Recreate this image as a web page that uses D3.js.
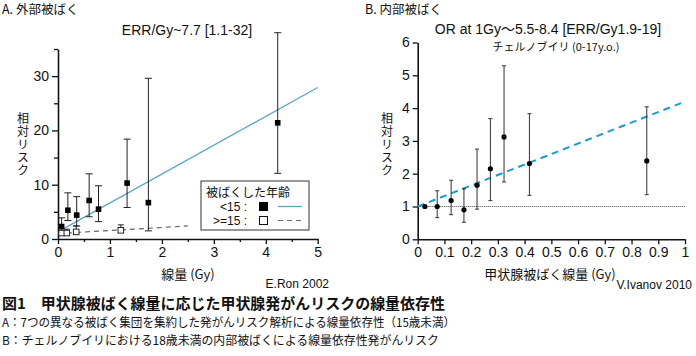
<!DOCTYPE html>
<html><head><meta charset="utf-8">
<script src="https://cdn.jsdelivr.net/npm/d3@7"></script>
<style>
html,body{margin:0;padding:0;background:#fff;}
svg{display:block;}
text{font-family:"Liberation Sans","Noto Sans CJK JP",sans-serif;fill:#111;}
.jp{font-family:"Noto Sans CJK JP","Liberation Sans",sans-serif;}
</style></head>
<body>
<svg id="chart" width="696" height="356"></svg>
<script>
// ---- Panel A data (external exposure, E.Ron 2002) ----
const aDoseU15 = [0.07, 0.19, 0.36, 0.60, 0.78, 1.33, 1.74, 4.23];
const aRRU15   = [2.3, 5.3, 4.4, 7.1, 5.5, 10.3, 6.7, 21.4];
const aLoU15   = [1.4, 3.4, 2.4, 4.1, 3.2, 5.8, 1.5, 12.1];
const aHiU15   = [3.9, 8.5, 7.8, 12.0, 9.8, 18.4, 29.6, 38.0];
const aDoseO15 = [0.07, 0.17, 0.35, 1.21];
const aRRO15   = [1.1, 1.1, 1.3, 1.6];
const aLoO15   = [0.8, 0.8, 0.9, 1.2];
const aHiO15   = [1.5, 1.8, 2.4, 2.6];
const aFitU15X = [0.05, 5.0];
const aFitU15Y = [1.6, 27.9];
const aFitO15X = [0.0, 2.5];
const aFitO15Y = [1.0, 2.4];
const aXTicks = [0, 1, 2, 3, 4, 5];
const aYTicks = [0, 10, 20, 30];

// ---- Panel B data (internal exposure, V.Ivanov 2010) ----
const bDose = [0.027, 0.073, 0.125, 0.173, 0.222, 0.272, 0.323, 0.418, 0.857];
const bRR   = [1.00, 1.00, 1.18, 0.90, 1.65, 2.15, 3.12, 2.31, 2.39];
const bLo   = [1.00, 0.66, 0.75, 0.52, 0.92, 1.18, 1.75, 1.34, 1.36];
const bHi   = [1.00, 1.48, 1.80, 1.54, 2.75, 3.68, 5.29, 3.83, 4.04];
const bFitX = [0, 1];
const bFitY = [1.0, 4.2];
const bXTicks = [0, 0.1, 0.2, 0.3, 0.4, 0.5, 0.6, 0.7, 0.8, 0.9, 1];
const bYTicks = [0, 1, 2, 3, 4, 5, 6];

const svg = d3.select("#chart");
const fmtB = d => d === 0 ? "0" : d === 1 ? "1" : d3.format(".1f")(d);

function styleAxis(g, sw) {
  g.select(".domain").attr("stroke", "#111").attr("stroke-width", sw);
  g.selectAll(".tick line").attr("stroke", "#111").attr("stroke-width", 1.3);
  g.selectAll(".tick text").style("font-size", "14px").attr("fill", "#111")
    .style("font-family", '"Liberation Sans",sans-serif');
}

// ================= Panel A =================
const ax = d3.scaleLinear().domain([0, 5]).range([58, 317.7]);
const ay = d3.scaleLinear().domain([0, 35]).range([239, 49]);

const aXG = svg.append("g").attr("transform", `translate(0,${ay(0)})`)
  .call(d3.axisBottom(ax).tickValues(aXTicks).tickSize(5).tickSizeOuter(0).tickPadding(3).tickFormat(d3.format("d")));
styleAxis(aXG, 1.6);
svg.append("g").attr("transform", `translate(0,${ay(0)})`)
  .call(d3.axisBottom(ax).tickValues(d3.range(0.5, 5, 1)).tickSize(3).tickSizeOuter(0).tickFormat(""))
  .call(g => { g.select(".domain").remove(); g.selectAll("line").attr("stroke", "#111").attr("stroke-width", 1.3); });
const aYG = svg.append("g").attr("transform", `translate(${ax(0)},0)`)
  .call(d3.axisLeft(ay).tickValues(aYTicks).tickSize(6).tickSizeOuter(0).tickPadding(3).tickFormat(d3.format("d")));
styleAxis(aYG, 1.6);
svg.append("g").attr("transform", `translate(${ax(0)},0)`)
  .call(d3.axisLeft(ay).tickValues([5, 15, 25, 35]).tickSize(4).tickSizeOuter(0).tickFormat(""))
  .call(g => { g.select(".domain").remove(); g.selectAll("line").attr("stroke", "#111").attr("stroke-width", 1.3); });

const aLine = d3.line().x(d => ax(d[0])).y(d => ay(d[1]));
svg.append("path").datum(d3.zip(aFitU15X, aFitU15Y)).attr("d", aLine)
  .attr("fill", "none").attr("stroke", "#5aa5cd").attr("stroke-width", 1.3);
svg.append("path").datum(d3.zip(aFitO15X, aFitO15Y)).attr("d", aLine)
  .attr("fill", "none").attr("stroke", "#666").attr("stroke-width", 1.2).attr("stroke-dasharray", "5,4");

function errBars(g, xs, lo, hi, xsc, ysc, cap, color, sw) {
  xs.forEach((x, i) => {
    if (hi[i] === lo[i]) return;
    const px = xsc(x);
    g.append("line").attr("x1", px).attr("x2", px).attr("y1", ysc(lo[i])).attr("y2", ysc(hi[i]))
      .attr("stroke", color).attr("stroke-width", sw);
    [lo[i], hi[i]].forEach(v => g.append("line").attr("x1", px - cap).attr("x2", px + cap)
      .attr("y1", ysc(v)).attr("y2", ysc(v)).attr("stroke", color).attr("stroke-width", sw));
  });
}
const aG = svg.append("g");
errBars(aG, aDoseO15, aLoO15, aHiO15, ax, ay, 3, "#222", 1);
errBars(aG, aDoseU15, aLoU15, aHiU15, ax, ay, 3.5, "#222", 1);
aG.selectAll("rect.o").data(d3.zip(aDoseO15, aRRO15)).join("rect")
  .attr("x", d => ax(d[0]) - 2.8).attr("y", d => ay(d[1]) - 2.8).attr("width", 5.6).attr("height", 5.6)
  .attr("fill", "#fff").attr("stroke", "#111").attr("stroke-width", 0.9);
aG.selectAll("rect.u").data(d3.zip(aDoseU15, aRRU15)).join("rect")
  .attr("x", d => ax(d[0]) - 2.8).attr("y", d => ay(d[1]) - 2.8).attr("width", 5.6).attr("height", 5.6)
  .attr("fill", "#000");

// legend
const lg = svg.append("g");
lg.append("rect").attr("x", 201).attr("y", 181).attr("width", 108).attr("height", 49)
  .attr("fill", "#fff").attr("stroke", "#333").attr("stroke-width", 1);
lg.append("text").attr("class", "jp").attr("x", 206).attr("y", 196.5).style("font-size", "12px").text("被ばくした年齢");
lg.append("text").attr("x", 247).attr("y", 211).attr("text-anchor", "end").style("font-size", "12px").text("<15 :");
lg.append("text").attr("x", 247).attr("y", 225).attr("text-anchor", "end").style("font-size", "12px").text(">=15 :");
lg.append("rect").attr("x", 259).attr("y", 202).attr("width", 9).attr("height", 9).attr("fill", "#000");
lg.append("rect").attr("x", 259.5).attr("y", 216.5).attr("width", 8).attr("height", 8).attr("fill", "#fff").attr("stroke", "#111");
lg.append("line").attr("x1", 278).attr("x2", 302).attr("y1", 206.5).attr("y2", 206.5).attr("stroke", "#5aa5cd").attr("stroke-width", 1.3);
lg.append("line").attr("x1", 278).attr("x2", 302).attr("y1", 220.5).attr("y2", 220.5).attr("stroke", "#666").attr("stroke-width", 1.2).attr("stroke-dasharray", "5,4");

// texts A
svg.append("text").attr("class", "jp").attr("x", 2).attr("y", 14).style("font-size", "12.5px").text("A. 外部被ばく");
svg.append("text").attr("x", 187).attr("y", 35).attr("text-anchor", "middle").style("font-size", "14px").text("ERR/Gy~7.7 [1.1-32]");
svg.append("text").attr("class", "jp").attr("x", 188).attr("y", 279).attr("text-anchor", "middle").style("font-size", "13px").text("線量 (Gy)");
svg.append("text").attr("x", 329).attr("y", 288).attr("text-anchor", "end").style("font-size", "12px").text("E.Ron 2002");

// vertical (tategaki) axis label as one text element
function vLabel(x, yTop, str) {
  svg.append("text").attr("class", "jp")
    .style("font-size", "12px").style("writing-mode", "vertical-rl").style("letter-spacing", "1px")
    .attr("x", x).attr("y", yTop).text(str);
}
vLabel(23, 112, "相対リスク");

// ================= Panel B =================
const bx = d3.scaleLinear().domain([0, 1]).range([417.7, 685]);
const by = d3.scaleLinear().domain([0, 6]).range([239.3, 42.5]);

const bXG = svg.append("g").attr("transform", `translate(0,${by(0)})`)
  .call(d3.axisBottom(bx).tickValues(bXTicks).tickSize(5).tickSizeOuter(0).tickPadding(3).tickFormat(fmtB));
styleAxis(bXG, 1.6);
const bYG = svg.append("g").attr("transform", `translate(${bx(0)},0)`)
  .call(d3.axisLeft(by).tickValues(bYTicks).tickSize(5).tickSizeOuter(0).tickPadding(3).tickFormat(d3.format("d")));
styleAxis(bYG, 1.6);

svg.append("line").attr("x1", bx(0)).attr("x2", bx(1)).attr("y1", by(1)).attr("y2", by(1))
  .attr("stroke", "#444").attr("stroke-width", 1).attr("stroke-dasharray", "1,1");
svg.append("path").datum(d3.zip(bFitX, bFitY))
  .attr("d", d3.line().x(d => bx(d[0])).y(d => by(d[1])))
  .attr("fill", "none").attr("stroke", "#1a9bd3").attr("stroke-width", 2).attr("stroke-dasharray", "7,5");
const bG = svg.append("g");
errBars(bG, bDose, bLo, bHi, bx, by, 2, "#333", 1);
bG.selectAll("circle").data(d3.zip(bDose, bRR)).join("circle")
  .attr("cx", d => bx(d[0])).attr("cy", d => by(d[1])).attr("r", 2.6).attr("fill", "#000");

svg.append("text").attr("class", "jp").attr("x", 365).attr("y", 14).style("font-size", "12.5px").text("B. 内部被ばく");
svg.append("text").attr("x", 548).attr("y", 34).attr("text-anchor", "middle").style("font-size", "14px").text("OR at 1Gy～5.5-8.4 [ERR/Gy1.9-19]");
svg.append("text").attr("class", "jp").attr("x", 556).attr("y", 51).attr("text-anchor", "middle").style("font-size", "11px").text("チェルノブイリ (0-17y.o.)");
svg.append("text").attr("class", "jp").attr("x", 550).attr("y", 279).attr("text-anchor", "middle").style("font-size", "13px").text("甲状腺被ばく線量 (Gy)");
svg.append("text").attr("x", 692).attr("y", 289).attr("text-anchor", "end").style("font-size", "12px").text("V.Ivanov 2010");
vLabel(387, 112, "相対リスク");

// ================= Caption =================
svg.append("text").attr("class", "jp").attr("x", 2).attr("y", 309).style("font-size", "15px").style("font-weight", "bold")
  .attr("textLength", 443).attr("lengthAdjust", "spacingAndGlyphs")
  .text("図1　甲状腺被ばく線量に応じた甲状腺発がんリスクの線量依存性");
svg.append("text").attr("class", "jp").attr("x", 2).attr("y", 327).style("font-size", "12px")
  .attr("textLength", 453).attr("lengthAdjust", "spacingAndGlyphs")
  .text("A：7つの異なる被ばく集団を集約した発がんリスク解析による線量依存性（15歳未満）");
svg.append("text").attr("class", "jp").attr("x", 2).attr("y", 345).style("font-size", "12px")
  .attr("textLength", 437).attr("lengthAdjust", "spacingAndGlyphs")
  .text("B：チェルノブイリにおける18歳未満の内部被ばくによる線量依存性発がんリスク");
</script>
</body></html>
